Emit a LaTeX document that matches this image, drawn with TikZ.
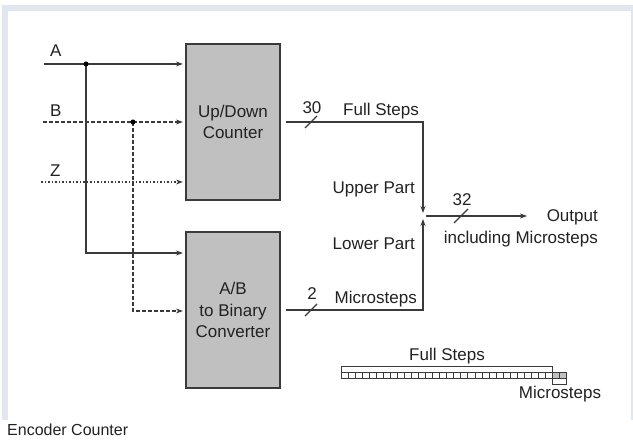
\documentclass[tikz,border=0pt]{standalone}
\usepackage{fontspec}
\setmainfont{Liberation Sans}
\usetikzlibrary{arrows.meta,positioning,calc,backgrounds}
\definecolor{framecol}{HTML}{E1E7F0}
\definecolor{linecol}{HTML}{3A3A3A}
\definecolor{boxcol}{HTML}{C0C0C0}
\definecolor{textcol}{HTML}{222222}
\tikzstyle{block}=[rectangle, draw=linecol, fill=boxcol, line width=1.2pt, minimum width=94pt, minimum height=156pt, align=center, text=textcol, font=\fontsize{17}{21.5}\selectfont]
\tikzstyle{lbl}=[inner sep=0pt, text=textcol, font=\fontsize{17}{21}\selectfont]
\tikzstyle{wire}=[draw=linecol, line width=1.2pt]
\tikzstyle{sig}=[wire, -{Stealth[length=7pt,width=5pt]}, shorten >=2.5pt]
\tikzstyle{dashB}=[dash pattern=on 4pt off 2pt]
\tikzstyle{dotZ}=[dash pattern=on 1.5pt off 2pt]
\tikzstyle{jdot}=[circle, fill=black, inner sep=0pt, minimum size=5pt]
\tikzstyle{bit}=[draw=linecol, line width=0.9pt]

\begin{document}
\begin{tikzpicture}[x=1pt,y=-1pt]
\useasboundingbox (0,0) rectangle (633,443);
%Frame
\fill[framecol] (2,5) rectangle (633,420);
\fill[white] (8,11) rectangle (631,420);
%Blocks
\node[block] (udc) at (233,122) {Up/Down\\Counter};
\node[block] (abc) at (233,310) {A/B\\to Binary\\Converter};
%Inputs
\coordinate (inA) at (44,64);
\coordinate (inB) at (43,122);
\coordinate (inZ) at (41,182);
\coordinate (jA) at (86,64);
\coordinate (jB) at (133,122);
\coordinate (bA) at (86,253);
\coordinate (bB) at (133,311);
\node[lbl, anchor=base west] (la) at (50,57) {A};
\node[lbl, anchor=base west] (lb) at (50,117) {B};
\node[lbl, anchor=base west] (lz) at (50,177) {Z};
\draw[sig] (inA) -- (udc.west |- inA);
\draw[sig, dashB] (inB) -- (udc.west |- inB);
\draw[sig, dotZ] (inZ) -- (udc.west |- inZ);
\draw[sig] (jA) -- (bA) -- (abc.west |- bA);
\draw[sig, dashB] (jB) -- (bB) -- (abc.west |- bB);
\node[jdot] (dA) at (jA) {};
\node[jdot] (dB) at (jB) {};
%Outputs
\coordinate (m) at (423,216);
\coordinate (out) at (527,216);
\draw[sig, shorten <=5pt, shorten >=3pt] (udc.east) -- (udc.east -| m) -- (m);
\draw[sig, shorten <=5pt, shorten >=3pt] (abc.east) -- (abc.east -| m) -- (m);
\draw[sig, shorten <=3pt, shorten >=0pt] (m) -- (out);
%Bus widths
\coordinate (s30) at (311,122);
\coordinate (s2) at (311,310);
\coordinate (s32) at (461,216);
\draw[wire] ($(s30)+(-6,6)$) -- ($(s30)+(6,-6)$);
\draw[wire] ($(s2)+(-6,6)$) -- ($(s2)+(6,-6)$);
\draw[wire] ($(s32)+(-7,7)$) -- ($(s32)+(7,-7)$);
\node[lbl, anchor=base] (n30) at (312,114) {30};
\node[lbl, anchor=base] (n2) at (312,300) {2};
\node[lbl, anchor=base] (n32) at (462,206) {32};
\node[lbl, anchor=base east] (lfs) at (419,116) {Full Steps};
\node[lbl, anchor=base east] (lup) at (415,194) {Upper Part};
\node[lbl, anchor=base east] (llo) at (415,250) {Lower Part};
\node[lbl, anchor=base east] (lms) at (417,304) {Microsteps};
\node[lbl, anchor=base east] (lout) at (598,222) {Output};
\node[lbl, anchor=base east] (linc) at (598,244) {including Microsteps};
%Bit layout
\foreach \i in {30,31} {
  \fill[boxcol] (341+\i*7.05,372) rectangle ++(7.05,6);
}
\foreach \i in {0,...,31} {
  \draw[bit] (341+\i*7.05,372) rectangle ++(7.05,6);
}
\draw[bit] (341,366) rectangle (552.5,372);
\draw[bit] (552.5,372) rectangle (566.6,384);
\node[lbl, anchor=base] (bfs) at (447,361) {Full Steps};
\node[lbl, anchor=base] (bms) at (560,399) {Microsteps};
%Caption
\node[lbl, anchor=base west, font=\fontsize{16}{19}\selectfont] (cap) at (7,436) {Encoder Counter};
\end{tikzpicture}
\end{document}
